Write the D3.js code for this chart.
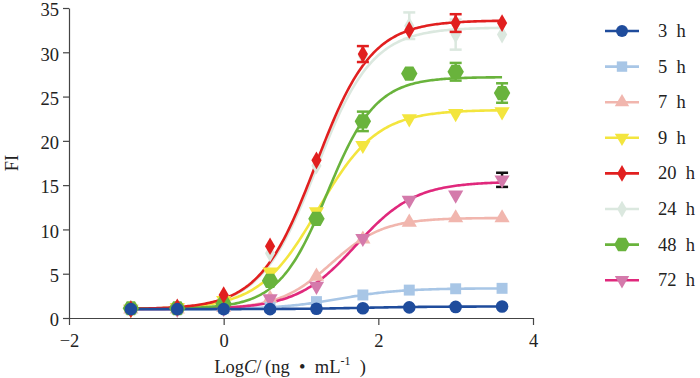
<!DOCTYPE html>
<html>
<head>
<meta charset="utf-8">
<script src="https://cdn.jsdelivr.net/npm/d3@7"></script>
<style>
  body { margin: 0; background: #fff; }
  svg text { font-family: "Liberation Serif", "DejaVu Serif", serif; fill: #222; }
</style>
</head>
<body>
<svg id="chart" width="700" height="378"></svg>
<script>
// log concentration sampled
const logC = [-1.2, -0.6, 0, 0.6, 1.2, 1.8, 2.4, 3.0, 3.6];

const seriesNames = ['3 h', '5 h', '7 h', '9 h', '20 h', '24 h', '48 h', '72 h'];

// FI readings per series
const fi3h  = [1.0, 1.0, 1.0, 1.0, 1.05, 1.1, 1.2, 1.25, 1.3];
const fi5h  = [1.0, 1.0, 1.05, 1.2, 1.85, 2.6, 3.15, 3.3, 3.35];
const fi7h  = [1.0, 1.0, 1.2, 2.2, 4.7, 8.9, 10.8, 11.3, 11.3];
const fi9h  = [1.0, 1.2, 2.0, 5.2, 12.0, 19.5, 22.5, 23.1, 23.3];
const fi20h = [1.0, 1.2, 2.6, 8.1, 17.8, 29.8, 32.5, 33.3, 33.3];
const fi24h = [1.0, 1.2, 2.2, 7.3, 17.2, 29.6, 33.0, 32.0, 32.0];
const fi48h = [1.1, 1.1, 1.6, 4.2, 11.2, 22.2, 27.6, 27.8, 25.4];
const fi72h = [1.0, 1.0, 1.1, 2.2, 3.6, 9.0, 13.3, 13.9, 15.6];

// error bar half-widths (null = none drawn)
const err20h = [null, null, null, null, null, 0.9, null, 1.0, null];
const err24h = [null, null, null, null, null, null, 1.5, 1.7, null];
const err48h = [null, null, null, null, null, 1.1, null, 1.0, 1.1];
const err72h = [null, null, null, null, null, null, null, null, 0.8];

// fitted 4PL curve parameters
const fitBottom = [1.0, 1.0, 1.0, 1.0, 1.0, 1.0, 1.05, 1.0];
const fitTop    = [1.3, 3.35, 11.3, 23.5, 33.6, 32.8, 27.2, 15.4];
const fitEC50   = [1.8, 1.5, 1.39, 1.22, 1.19, 1.2, 1.34, 1.71];
const fitHill   = [1.0, 1.1, 1.29, 1.14, 1.2, 1.2, 1.38, 1.14];

const lineColors   = ['#1f4c9c', '#a8c6e6', '#f1b6ae', '#f3e53e', '#e11f1f', '#dbe8df', '#69b33c', '#e0287c'];
const markerColors = ['#1f4c9c', '#a8c6e6', '#f1b6ae', '#f3e53e', '#e11f1f', '#dbe8df', '#69b33c', '#d47aab'];
const errColors    = ['#1f4c9c', '#a8c6e6', '#f1b6ae', '#f3e53e', '#e11f1f', '#dbe8df', '#69b33c', '#111111'];

const xTicks = [-2, 0, 2, 4];
const yTicks = [0, 5, 10, 15, 20, 25, 30, 35];

const values = [fi3h, fi5h, fi7h, fi9h, fi20h, fi24h, fi48h, fi72h];
const errs = [null, null, null, null, err20h, err24h, err48h, err72h];

const svg = d3.select('#chart');

const x = d3.scaleLinear().domain([-2, 4]).range([69, 533]);
const y = d3.scaleLinear().domain([0, 35]).range([318, 8]);

// hexagon with points left/right
const hexagon = {
  draw(context, size) {
    const r = Math.sqrt(size / (1.5 * Math.sqrt(3)));
    for (let i = 0; i < 6; i++) {
      const a = i * Math.PI / 3;
      const px = r * Math.cos(a), py = r * Math.sin(a);
      if (i === 0) context.moveTo(px, py); else context.lineTo(px, py);
    }
    context.closePath();
  }
};

const markers = [
  { type: d3.symbolCircle, size: 125, rot: 0 },
  { type: d3.symbolSquare, size: 120, rot: 0 },
  { type: d3.symbolTriangle, size: 100, rot: 0 },
  { type: d3.symbolTriangle, size: 100, rot: 180 },
  { type: d3.symbolDiamond, size: 90, rot: 0 },
  { type: d3.symbolDiamond, size: 90, rot: 0 },
  { type: hexagon, size: 175, rot: 0 },
  { type: d3.symbolTriangle, size: 100, rot: 180 }
];

// axes
const gx = svg.append('g')
  .attr('transform', `translate(0,${y(0)})`)
  .call(d3.axisBottom(x).tickValues(xTicks).tickSize(7).tickSizeOuter(0).tickFormat(d => d < 0 ? '\u2212' + Math.abs(d) : d));
const gy = svg.append('g')
  .attr('transform', `translate(${x(-2)},0)`)
  .call(d3.axisLeft(y).tickValues(yTicks).tickSize(6).tickSizeOuter(0));

[gx, gy].forEach(g => {
  g.select('.domain').attr('stroke', '#444').attr('stroke-width', 1.2);
  g.selectAll('.tick line').attr('stroke', '#444').attr('stroke-width', 1.2);
  g.selectAll('.tick text').attr('font-size', 18.5).attr('fill', '#222');
});
gx.selectAll('.tick text').attr('dy', '1.02em');
gy.selectAll('.tick text').attr('dx', '-0.05em').attr('dy', '0.42em');

// axis titles
svg.append('text')
  .attr('transform', `translate(18,${y(17.5)}) rotate(-90)`)
  .attr('text-anchor', 'middle')
  .attr('font-size', 18.5)
  .text('FI');

const xt = svg.append('text')
  .attr('x', 290).attr('y', 373)
  .attr('text-anchor', 'middle')
  .attr('font-size', 18.5);
xt.append('tspan').text('Log');
xt.append('tspan').attr('font-style', 'italic').text('C');
xt.append('tspan').text('/\u2009(ng\u2002\u2022\u2002mL');
xt.append('tspan').attr('font-size', 12).attr('dy', -8).text('-1');
xt.append('tspan').attr('dy', 8).text('\u2002)');

// fitted curves
const curveXs = d3.range(-1.2, 3.6001, 0.02);
const line = d3.line().x(d => x(d[0])).y(d => y(d[1])).curve(d3.curveLinear);

const plot = svg.append('g');
const drawOrder = [5, 2, 1, 7, 3, 6, 4, 0];

drawOrder.forEach(i => {
  const pts = curveXs.map(v => [v, fitBottom[i] + (fitTop[i] - fitBottom[i]) / (1 + Math.pow(10, (fitEC50[i] - v) * fitHill[i]))]);
  plot.append('path')
    .attr('d', line(pts))
    .attr('fill', 'none')
    .attr('stroke', lineColors[i])
    .attr('stroke-width', 2.6);
});

// error bars + markers
drawOrder.forEach(i => {
  const g = plot.append('g');
  if (errs[i]) {
    errs[i].forEach((e, k) => {
      if (e == null) return;
      const cx = x(logC[k]);
      const y1 = y(values[i][k] + e), y2 = y(values[i][k] - e);
      g.append('line').attr('x1', cx).attr('x2', cx).attr('y1', y1).attr('y2', y2)
        .attr('stroke', errColors[i]).attr('stroke-width', 2.5);
      [y1, y2].forEach(yy => g.append('line')
        .attr('x1', cx - 6).attr('x2', cx + 6).attr('y1', yy).attr('y2', yy)
        .attr('stroke', errColors[i]).attr('stroke-width', 2.5));
    });
  }
  const m = markers[i];
  g.selectAll('path.pt')
    .data(values[i].map((v, k) => [logC[k], v]))
    .join('path')
    .attr('class', 'pt')
    .attr('d', d3.symbol().type(m.type).size(m.size))
    .attr('transform', d => `translate(${x(d[0])},${y(d[1])}) rotate(${m.rot})`)
    .attr('fill', markerColors[i]);
});

// legend
const legend = svg.append('g');
seriesNames.forEach((name, i) => {
  const ly = 31 + i * 35.6;
  legend.append('line')
    .attr('x1', 605).attr('x2', 639).attr('y1', ly).attr('y2', ly)
    .attr('stroke', lineColors[i]).attr('stroke-width', 2.6);
  const m = markers[i];
  legend.append('path')
    .attr('d', d3.symbol().type(m.type).size(m.size * 0.9))
    .attr('transform', `translate(622,${ly}) rotate(${m.rot})`)
    .attr('fill', markerColors[i]);
  legend.append('text')
    .attr('x', 658).attr('y', ly + 6)
    .attr('font-size', 18.5)
    .text(name.replace(' ', '\u2002'));
});
</script>
</body>
</html>
